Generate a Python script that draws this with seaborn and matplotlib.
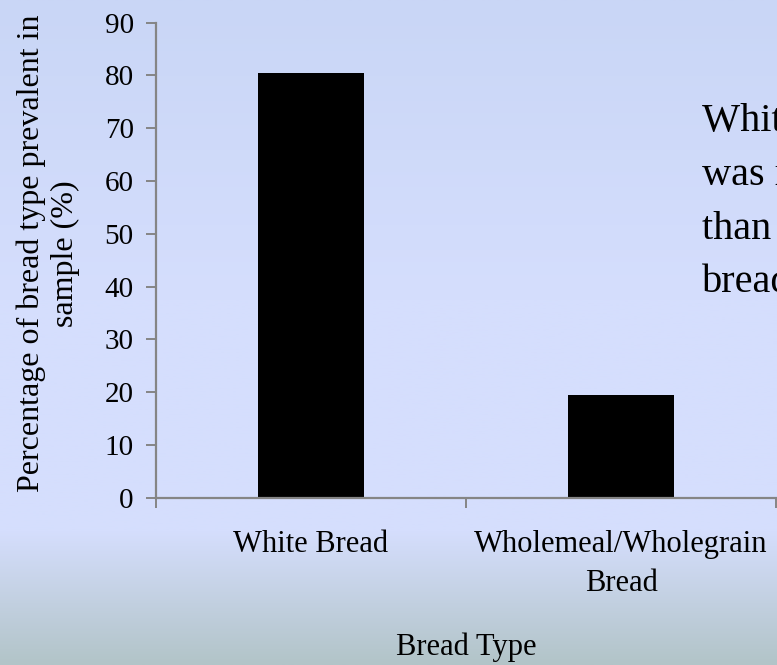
import numpy as np
import pandas as pd
import matplotlib
matplotlib.use('Agg')
import matplotlib.pyplot as plt
from matplotlib.colors import LinearSegmentedColormap
import seaborn as sns

# Data
bread_types = ['White Bread', 'Wholemeal/Wholegrain\nBread']
percentages = [80.5, 19.5]
y_ticks = [0, 10, 20, 30, 40, 50, 60, 70, 80, 90]

data = pd.DataFrame({'Bread Type': bread_types, 'Percentage': percentages})

sns.set_style('white')
plt.rcParams['font.family'] = ['Liberation Serif', 'DejaVu Serif']
plt.rcParams['text.color'] = 'black'
plt.rcParams['axes.labelcolor'] = 'black'
plt.rcParams['xtick.color'] = 'black'
plt.rcParams['ytick.color'] = 'black'

fig = plt.figure(figsize=(7.77, 6.65), dpi=100)

# slide-style gradient background
bg = fig.add_axes([0, 0, 1, 1], zorder=-10)
grad = LinearSegmentedColormap.from_list(
    'slide', [(0.0, '#c9d6f6'), (0.45, '#d5defd'), (0.80, '#d5defd'), (1.0, '#b2c4c8')])
bg.imshow(np.linspace(0, 1, 256).reshape(-1, 1), aspect='auto', cmap=grad,
          extent=[0, 1, 0, 1], origin='upper')
bg.set_axis_off()

ax = fig.add_axes([156 / 777, 1 - 497.7 / 665, 620 / 777, 475 / 665])
ax.patch.set_alpha(0)

sns.barplot(data=data, x='Bread Type', y='Percentage', color='black',
            saturation=1, width=0.345, linewidth=0, edgecolor='black', ax=ax)

ax.set_xlim(-0.5, 1.5)
ax.set_ylim(0, 90)
ax.set_yticks(y_ticks)

grey = '#858585'
for side in ['top', 'right']:
    ax.spines[side].set_visible(False)
for side in ['left', 'bottom']:
    ax.spines[side].set_color(grey)
    ax.spines[side].set_linewidth(1.6)

ax.tick_params(axis='y', direction='out', length=7, width=1.4, color=grey,
               labelsize=21, pad=9, left=True, labelcolor='black')
ax.tick_params(axis='x', which='major', length=0, labelsize=22, pad=23,
               labelcolor='black')
ax.set_xticks([-0.5, 0.5, 1.5], minor=True)
ax.tick_params(axis='x', which='minor', direction='out', length=7, width=1.4,
               color=grey, bottom=True)
for lbl in ax.get_xticklabels():
    lbl.set_linespacing(1.49)

ax.set_ylabel('Percentage of bread type prevalent in\nsample (%)', fontsize=23,
              va='center', ha='center', linespacing=1.25)
ax.yaxis.set_label_coords(-0.174, 0.514)
ax.set_xlabel('Bread Type', fontsize=22, va='center')
ax.xaxis.set_label_coords(0.5, -0.314)

fig.text(702 / 777, 1 - 103 / 665, 'White bread\nwas more\nthan wholemeal\nbread',
         fontsize=29, va='top', ha='left', linespacing=1.6)

fig.savefig('out.png', dpi=100)
